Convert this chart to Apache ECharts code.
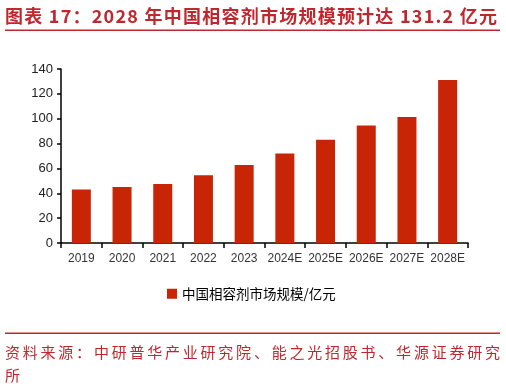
<!DOCTYPE html>
<html><head><meta charset="utf-8">
<script src="https://cdn.jsdelivr.net/npm/echarts@6/dist/echarts.min.js"></script>
<style>html,body{margin:0;padding:0;background:#fff;}#c{width:506px;height:389px;}</style>
</head><body><div id="c"></div>
<script>
const categories = ['2019','2020','2021','2022','2023','2024E','2025E','2026E','2027E','2028E'];
const marketSize = [43, 45, 47.5, 54.5, 62.7, 72, 83, 94.6, 101.4, 131.2];
const seriesName = '中国相容剂市场规模/亿元';
const titleText = '图表 17：2028 年中国相容剂市场规模预计达 131.2 亿元';
const sourceLine1 = '资料来源：中研普华产业研究院、能之光招股书、华源证券研究';
const sourceLine2 = '所';

const red = '#C0272D';
const graphics = [
  {type:'rect', shape:{x:5,y:29.5,width:495,height:1.5}, style:{fill:red}},
  {type:'rect', shape:{x:5,y:332.5,width:495,height:1.5}, style:{fill:red}}
];

// Spread a string across a given width (letter spacing emulation)
function spreadText(str, x0, totalWidth, y, font, fill) {
  const cv = document.createElement('canvas').getContext('2d');
  cv.font = font;
  const widths = Array.from(str).map(ch => cv.measureText(ch).width);
  const sum = widths.reduce((a,b)=>a+b,0);
  const n = widths.length;
  const extra = n > 1 ? (totalWidth - sum) / (n - 1) : 0;
  let x = x0;
  Array.from(str).forEach((ch, i) => {
    graphics.push({type:'text', x:x, y:y, style:{text:ch, fill:fill, font:font, verticalAlign:'middle', align:'left'}});
    x += widths[i] + extra;
  });
}
const titleFont = 'bold 18px "Noto Sans CJK SC"';
spreadText(titleText, 5, 492, 16, titleFont, red);
const srcFont = '15px "Noto Sans CJK SC"';
spreadText(sourceLine1, 5, 495, 352, srcFont, red);
graphics.push({type:'text', x:5, y:375, style:{text:sourceLine2, fill:red, font:srcFont, verticalAlign:'middle', align:'left'}});

const chart = echarts.init(document.getElementById('c'), null, {renderer:'canvas'});
chart.setOption({
  animation:false,
  grid:{left:61, right:38, top:69, bottom:146, containLabel:false},
  legend:{data:[seriesName], left:162, top:282, icon:'rect', itemWidth:10, itemHeight:10, itemGap:5,
    textStyle:{fontSize:13.5, color:'#000', fontFamily:'"Noto Sans CJK SC", sans-serif'}},
  xAxis:{type:'category', data:categories,
    axisLine:{lineStyle:{color:'#000', width:1.5}},
    axisTick:{show:true, alignWithLabel:false, interval:0, length:5, lineStyle:{color:'#000', width:1.5}},
    axisLabel:{interval:0, fontSize:12, color:'#333', margin:10, fontFamily:'"Liberation Sans", Arial, sans-serif'}},
  yAxis:{type:'value', min:0, max:140, interval:20,
    axisLine:{show:true, lineStyle:{color:'#000', width:1.5}},
    axisTick:{show:true, length:4, lineStyle:{color:'#000', width:1.5}},
    splitLine:{show:false},
    axisLabel:{fontSize:13, color:'#222', margin:8, fontFamily:'"Liberation Sans", Arial, sans-serif'}},
  series:[{name:seriesName, type:'bar', data:marketSize, barWidth:19, itemStyle:{color:'#C82506'}}],
  graphic:graphics
});
</script></body></html>
